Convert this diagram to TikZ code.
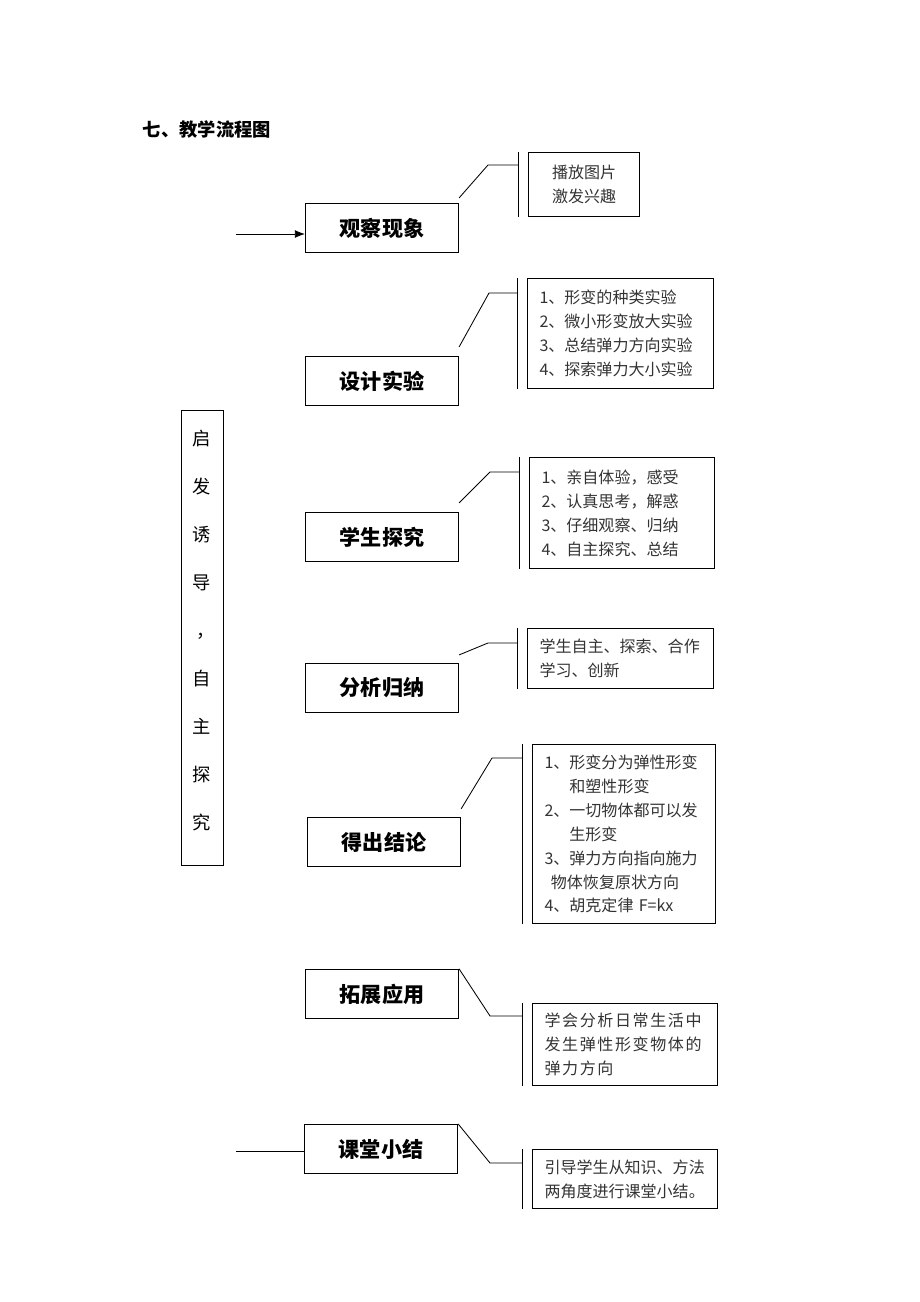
\documentclass[tikz,border=0pt]{standalone}
\usepackage{fontspec}
\setmainfont{Noto Sans CJK SC}
\usetikzlibrary{arrows.meta, positioning}

\begin{document}
\begin{tikzpicture}[
  x=0.025cm, y=-0.025cm,
  stage/.style={rectangle, draw=black, line width=0.7pt, minimum width=3.83cm, minimum height=1.23cm, font=\fontsize{15}{18}\selectfont\bfseries},
  note/.style={rectangle, draw=black, line width=0.7pt, anchor=north west, align=left, inner xsep=0.3cm, inner ysep=0pt, text=black!80, font=\fontsize{11.4}{17}\selectfont},
  side/.style={rectangle, draw=black, line width=0.7pt, minimum width=1.05cm, minimum height=11.35cm, align=center, font=\fontsize{13}{34.1}\selectfont},
  link/.style={draw=black, line width=0.6pt},
  arrow/.style={-{Latex[length=2.5mm, width=2mm]}, line width=0.6pt}
]
  \useasboundingbox (0,0) rectangle (920,1302);

  % Title
  \node[anchor=west, font=\fontsize{13}{16}\selectfont\bfseries] (title) at (138,130) {七、教学流程图};

  % Stages
  \node[stage] (s1) at (382,228) {观察现象};
  \node[stage] (s2) at (382,381) {设计实验};
  \node[stage] (s3) at (382,537) {学生探究};
  \node[stage] (s4) at (382,688) {分析归纳};
  \node[stage] (s5) at (384,842) {得出结论};
  \node[stage] (s6) at (382,994) {拓展应用};
  \node[stage] (s7) at (381,1149) {课堂小结};

  % Side column
  \node[side] (guide) at (202,638) {启\\发\\诱\\导\\\hspace*{0.45em}，\\自\\主\\探\\究\\[-22.7pt]\mbox{}};

  % Notes
  \node[note, align=center, text width=2.18cm, minimum height=1.6cm] (n1) at (528,152) {播放图片\\激发兴趣};
  \node[note, text width=4.05cm, minimum height=2.75cm] (n2) at (527,278)
    {1、形变的种类实验\\2、微小形变放大实验\\3、总结弹力方向实验\\4、探索弹力大小实验};
  \node[note, text width=4.03cm, minimum height=2.78cm] (n3) at (529,457)
    {1、亲自体验，感受\\2、认真思考，解惑\\3、仔细观察、归纳\\4、自主探究、总结};
  \node[note, text width=4.05cm, minimum height=1.5cm] (n4) at (527,628)
    {学生自主、探索、合作\\学习、创新};
  \node[note, text width=3.98cm, minimum height=4.48cm] (n5) at (532,744)
    {1、形变分为弹性形变\\\phantom{1、}和塑性形变\\2、一切物体都可以发\\\phantom{1、}生形变\\3、弹力方向指向施力\\\hspace*{0.4em}物体恢复原状方向\\4、胡克定律 F=kx};
  \node[note, text width=4.03cm, minimum height=2.05cm, font=\fontsize{11.4}{17}\selectfont\addfontfeature{LetterSpace=10}] (n6) at (532,1003)
    {学会分析日常生活中\\发生弹性形变物体的\\弹力方向};
  \node[note, text width=4.03cm, minimum height=1.48cm] (n7) at (532,1149)
    {引导学生从知识、方法\\两角度进行课堂小结。};

  % Entry and exit
  \coordinate (start) at (236,234);
  \coordinate (tail) at (236,1151);
  \draw[arrow] (start) -- (start -| s1.west);
  \draw[link] (tail) -- (tail -| s7.west);

  % Brackets
  \draw[link] ([shift={(-10,0)}]n1.north west) -- ([shift={(-10,0)}]n1.south west);
  \draw[link] ([shift={(-10,0)}]n2.north west) -- ([shift={(-10,0)}]n2.south west);
  \draw[link] ([shift={(-10,0)}]n3.north west) -- ([shift={(-10,0)}]n3.south west);
  \draw[link] ([shift={(-10,0)}]n4.north west) -- ([shift={(-10,0)}]n4.south west);
  \draw[link] ([shift={(-10,0)}]n5.north west) -- ([shift={(-10,0)}]n5.south west);
  \draw[link] ([shift={(-10,0)}]n6.north west) -- ([shift={(-10,0)}]n6.south west);
  \draw[link] ([shift={(-10,0)}]n7.north west) -- ([shift={(-10,0)}]n7.south west);

  % Connectors
  \draw[link] ([shift={(0,-5)}]s1.north east) -- ([shift={(-40,13)}]n1.north west) -- ([shift={(-10,13)}]n1.north west);
  \draw[link] ([shift={(0,-9)}]s2.north east) -- ([shift={(-38,15)}]n2.north west) -- ([shift={(-10,15)}]n2.north west);
  \draw[link] ([shift={(0,-9)}]s3.north east) -- ([shift={(-39,15)}]n3.north west) -- ([shift={(-10,15)}]n3.north west);
  \draw[link] ([shift={(0,-8)}]s4.north east) -- ([shift={(-39,15)}]n4.north west) -- ([shift={(-10,15)}]n4.north west);
  \draw[link] ([shift={(0,-8)}]s5.north east) -- ([shift={(-40,14)}]n5.north west) -- ([shift={(-10,14)}]n5.north west);
  \draw[link] (s6.north east) -- ([shift={(-42,13)}]n6.north west) -- ([shift={(-10,13)}]n6.north west);
  \draw[link] (s7.north east) -- ([shift={(-42,14)}]n7.north west) -- ([shift={(-10,14)}]n7.north west);
\end{tikzpicture}
\end{document}
